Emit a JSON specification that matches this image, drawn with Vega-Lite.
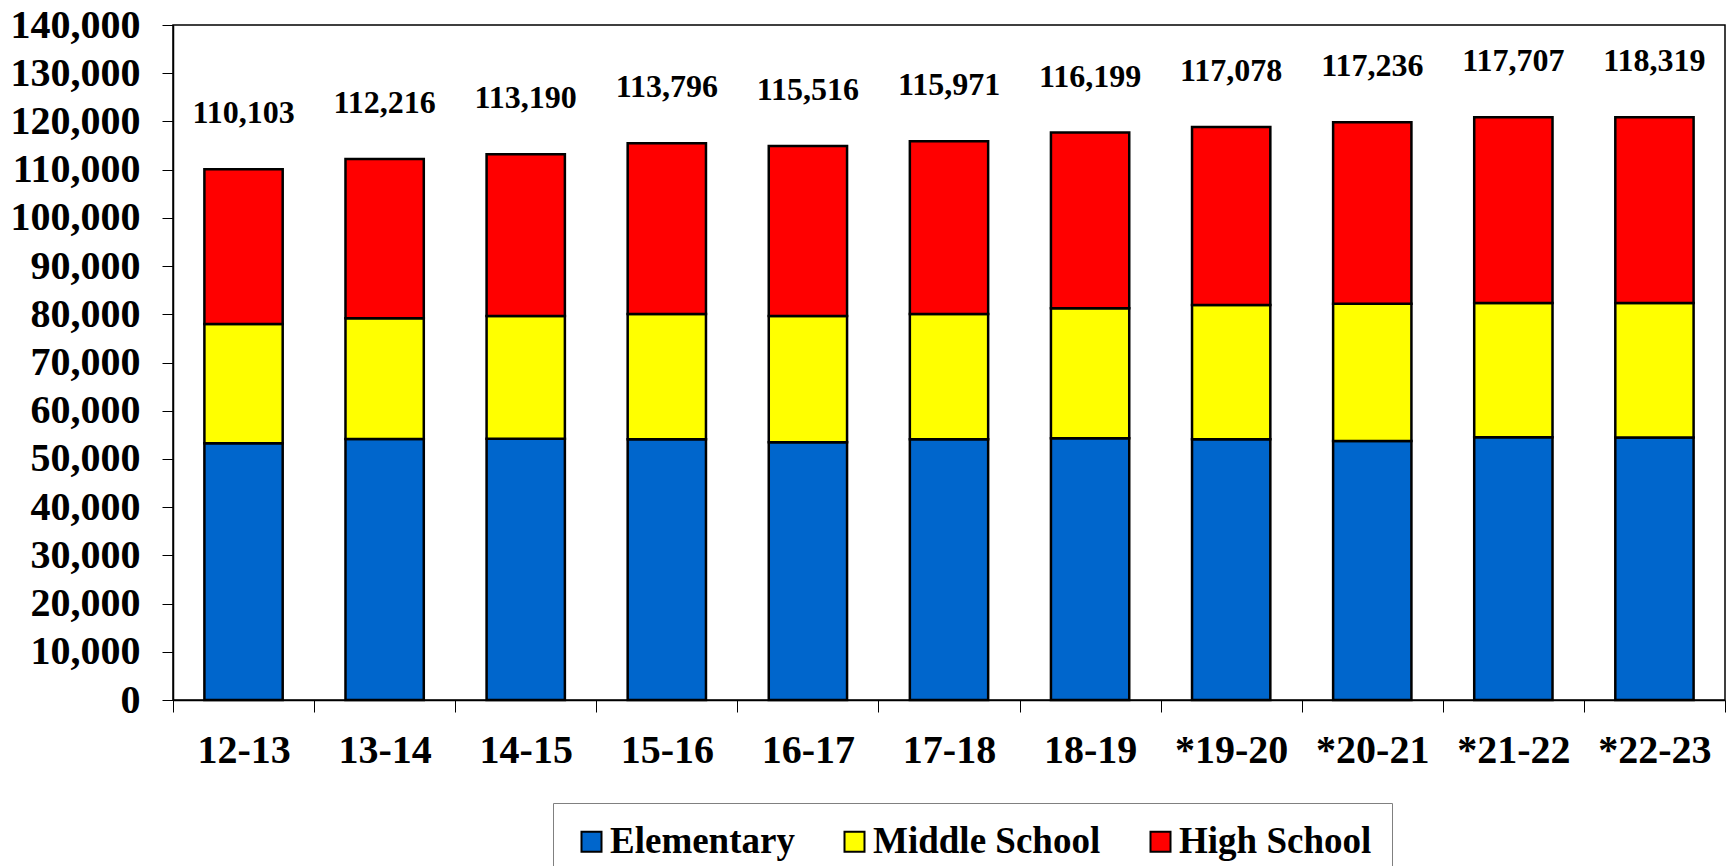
{
  "$schema": "https://vega.github.io/schema/vega-lite/v6.json",
  "width": 1552,
  "height": 675,
  "autosize": {"type": "none"},
  "padding": {"left": 173, "top": 25, "right": 7, "bottom": 166},
  "background": "white",
  "config": {
    "view": {"stroke": "#000000", "strokeWidth": 1.5},
    "font": "Liberation Serif",
    "axisX": {
      "labelAngle": 0, "tickBand": "extent",
      "tickSize": 12, "tickColor": "#000000", "domainColor": "#000000", "domainWidth": 1.5,
      "labelFont": "Liberation Serif", "labelFontSize": 40, "labelFontWeight": "bold",
      "labelColor": "#000000", "labelPadding": 18, "grid": false
    },
    "axisY": {
      "grid": false,
      "tickSize": 11, "tickColor": "#000000", "domainColor": "#000000", "domainWidth": 1.5,
      "labelFont": "Liberation Serif", "labelFontSize": 40, "labelFontWeight": "bold",
      "labelColor": "#000000", "labelPadding": 22
    }
  },
  "datasets": {
    "enroll": [
      {"year": "12-13", "level": "Elementary", "students": 53240, "levelOrder": 1},
      {"year": "12-13", "level": "Middle School", "students": 24760, "levelOrder": 2},
      {"year": "12-13", "level": "High School", "students": 32080, "levelOrder": 3},
      {"year": "13-14", "level": "Elementary", "students": 54140, "levelOrder": 1},
      {"year": "13-14", "level": "Middle School", "students": 25030, "levelOrder": 2},
      {"year": "13-14", "level": "High School", "students": 33050, "levelOrder": 3},
      {"year": "14-15", "level": "Elementary", "students": 54200, "levelOrder": 1},
      {"year": "14-15", "level": "Middle School", "students": 25450, "levelOrder": 2},
      {"year": "14-15", "level": "High School", "students": 33540, "levelOrder": 3},
      {"year": "15-16", "level": "Elementary", "students": 54070, "levelOrder": 1},
      {"year": "15-16", "level": "Middle School", "students": 26000, "levelOrder": 2},
      {"year": "15-16", "level": "High School", "students": 35400, "levelOrder": 3},
      {"year": "16-17", "level": "Elementary", "students": 53450, "levelOrder": 1},
      {"year": "16-17", "level": "Middle School", "students": 26200, "levelOrder": 2},
      {"year": "16-17", "level": "High School", "students": 35260, "levelOrder": 3},
      {"year": "17-18", "level": "Elementary", "students": 54070, "levelOrder": 1},
      {"year": "17-18", "level": "Middle School", "students": 26000, "levelOrder": 2},
      {"year": "17-18", "level": "High School", "students": 35820, "levelOrder": 3},
      {"year": "18-19", "level": "Elementary", "students": 54280, "levelOrder": 1},
      {"year": "18-19", "level": "Middle School", "students": 26960, "levelOrder": 2},
      {"year": "18-19", "level": "High School", "students": 36440, "levelOrder": 3},
      {"year": "*19-20", "level": "Elementary", "students": 54070, "levelOrder": 1},
      {"year": "*19-20", "level": "Middle School", "students": 27860, "levelOrder": 2},
      {"year": "*19-20", "level": "High School", "students": 36930, "levelOrder": 3},
      {"year": "*20-21", "level": "Elementary", "students": 53720, "levelOrder": 1},
      {"year": "*20-21", "level": "Middle School", "students": 28480, "levelOrder": 2},
      {"year": "*20-21", "level": "High School", "students": 37630, "levelOrder": 3},
      {"year": "*21-22", "level": "Elementary", "students": 54490, "levelOrder": 1},
      {"year": "*21-22", "level": "Middle School", "students": 27860, "levelOrder": 2},
      {"year": "*21-22", "level": "High School", "students": 38510, "levelOrder": 3},
      {"year": "*22-23", "level": "Elementary", "students": 54450, "levelOrder": 1},
      {"year": "*22-23", "level": "Middle School", "students": 27900, "levelOrder": 2},
      {"year": "*22-23", "level": "High School", "students": 38510, "levelOrder": 3}
    ],
    "totals": [
      {"year": "12-13", "total": 110103},
      {"year": "13-14", "total": 112216},
      {"year": "14-15", "total": 113190},
      {"year": "15-16", "total": 113796},
      {"year": "16-17", "total": 115516},
      {"year": "17-18", "total": 115971},
      {"year": "18-19", "total": 116199},
      {"year": "*19-20", "total": 117078},
      {"year": "*20-21", "total": 117236},
      {"year": "*21-22", "total": 117707},
      {"year": "*22-23", "total": 118319}
    ]
  },
  "layer": [
    {
      "data": {"name": "enroll"},
      "mark": {"type": "bar", "width": {"band": 0.555}, "stroke": "#000000", "strokeWidth": 2.5, "opacity": 1},
      "encoding": {
        "x": {
          "field": "year", "type": "nominal", "sort": null,
          "scale": {"paddingInner": 0, "paddingOuter": 0},
          "axis": {"title": null}
        },
        "y": {
          "field": "students", "type": "quantitative", "stack": "zero",
          "scale": {"domain": [0, 140000], "nice": false},
          "axis": {
            "title": null,
            "values": [0, 10000, 20000, 30000, 40000, 50000, 60000, 70000, 80000, 90000, 100000, 110000, 120000, 130000, 140000],
            "format": ",.0f"
          }
        },
        "color": {
          "field": "level", "type": "nominal",
          "sort": ["Elementary", "Middle School", "High School"],
          "scale": {"domain": ["Elementary", "Middle School", "High School"], "range": ["#0066CC", "#FFFF00", "#FF0000"]},
          "legend": {
            "title": null, "orient": "none", "direction": "horizontal",
            "legendX": 380, "legendY": 778,
            "strokeColor": "#808080", "fillColor": "#FFFFFF", "padding": 20,
            "symbolType": "square", "symbolSize": 400, "symbolStrokeColor": "#000000", "symbolStrokeWidth": 2,
            "symbolOpacity": 1,
            "labelFont": "Liberation Serif", "labelFontSize": 37, "labelFontWeight": "bold", "labelColor": "#000000",
            "labelOffset": 0, "columnPadding": 41, "labelLimit": 400
          }
        },
        "order": {"field": "levelOrder", "type": "quantitative"}
      }
    },
    {
      "data": {"name": "enroll"},
      "transform": [
        {"aggregate": [{"op": "sum", "field": "students", "as": "barTop"}], "groupby": ["year"]},
        {"lookup": "year", "from": {"data": {"name": "totals"}, "key": "year", "fields": ["total"]}}
      ],
      "mark": {"type": "text", "baseline": "middle", "dy": -56, "fontSize": 32, "fontWeight": "bold", "font": "Liberation Serif", "color": "#000000"},
      "encoding": {
        "x": {"field": "year", "type": "nominal", "sort": null, "axis": {"title": null}},
        "y": {
          "field": "barTop", "type": "quantitative",
          "axis": {
            "title": null,
            "values": [0, 10000, 20000, 30000, 40000, 50000, 60000, 70000, 80000, 90000, 100000, 110000, 120000, 130000, 140000],
            "format": ",.0f"
          }
        },
        "text": {"field": "total", "type": "quantitative", "format": ","}
      }
    }
  ]
}
